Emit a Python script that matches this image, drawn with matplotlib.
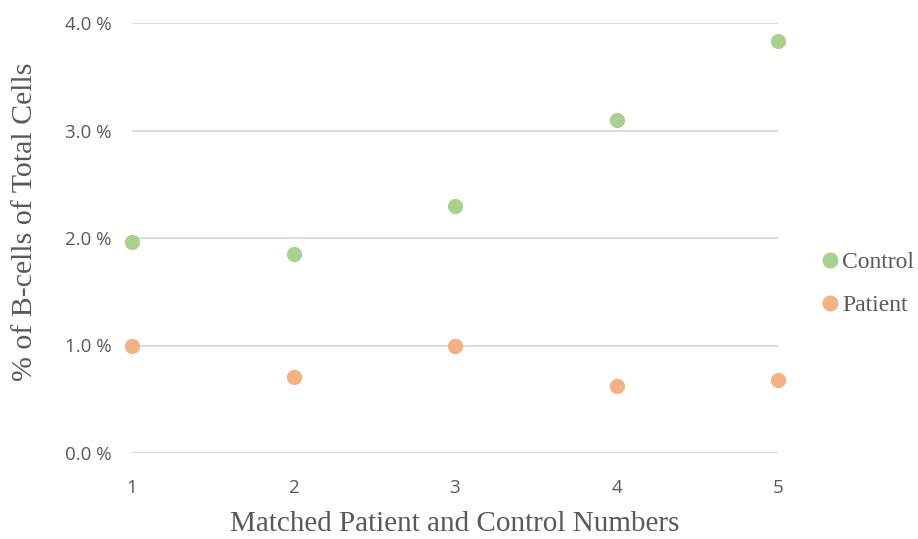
import matplotlib
matplotlib.use("Agg")
import matplotlib.pyplot as plt
from matplotlib.ticker import FuncFormatter
from matplotlib.lines import Line2D

pairs = [1, 2, 3, 4, 5]
control = [1.96, 1.85, 2.30, 3.10, 3.83]
patient = [1.00, 0.71, 1.00, 0.62, 0.68]
y_ticks = [0, 1, 2, 3, 4]

green = "#A9D18E"
orange = "#F4B183"
text_gray = "#595959"
grid_gray = "#D9D9D9"

fig = plt.figure(figsize=(9.18, 5.39), dpi=100)
ax = fig.add_axes([132 / 918, 1 - 453 / 539, (778 - 132) / 918, (453 - 23) / 539])

ax.scatter(pairs, control, s=120, color=green, zorder=3, clip_on=False, linewidths=0)
ax.scatter(pairs, patient, s=120, color=orange, zorder=3, clip_on=False, linewidths=0)

ax.set_xlim(1, 5)
ax.set_ylim(0, 4)
ax.set_yticks(y_ticks)
ax.set_xticks(pairs)
ax.yaxis.set_major_formatter(FuncFormatter(lambda v, _: f"{v:.1f} %"))
ax.grid(axis="y", color=grid_gray, linewidth=1.3)
ax.set_axisbelow(True)
for s in ["top", "right", "left", "bottom"]:
    ax.spines[s].set_visible(False)
ax.tick_params(length=0, labelsize=13.5, labelcolor=text_gray)
ax.tick_params(axis="y", pad=15)
ax.tick_params(axis="x", pad=19)
for lbl in ax.get_xticklabels() + ax.get_yticklabels():
    lbl.set_fontfamily("Open Sans")

serif = "Liberation Serif"
ax.set_xlabel("Matched Patient and Control Numbers", fontsize=21, family=serif,
              color=text_gray, labelpad=10)
ax.set_ylabel("% of B-cells of Total Cells", fontsize=21.5, family=serif,
              color=text_gray)
ax.yaxis.set_label_coords(-0.145, 0.537)

handles = [
    Line2D([], [], marker="o", linestyle="", markersize=10.5, color=green, label="Control"),
    Line2D([], [], marker="o", linestyle="", markersize=10.5, color=orange, label="Patient"),
]
fig.legend(handles=handles, loc="center left", bbox_to_anchor=(809 / 918, 1 - 284 / 539),
           frameon=False, prop={"family": serif, "size": 17}, labelcolor=text_gray,
           handletextpad=0.0, labelspacing=0.9, handlelength=1.0, borderaxespad=0)

fig.savefig("out.png", dpi=100)
